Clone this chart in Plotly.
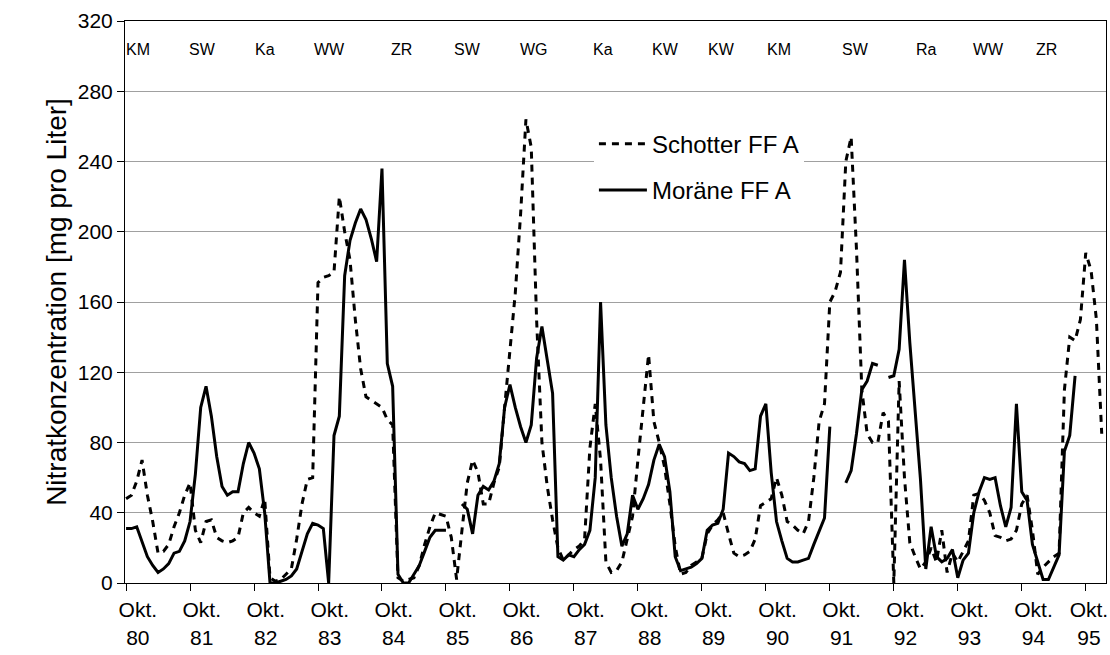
import plotly.graph_objects as go

# ---- data (monthly values, month 0 = Okt. 80) ----
months = list(range(184))

schotter = [
    48, 50, 58, 70, 50, 35, 17, 18, 22, 32,
    40, 50, 57, 30, 23, 35, 36, 26, 24, 23,
    24, 26, 40, 43, 40, 38, 48, 3, 1, 2,
    5, 8, 25, 45, 59, 60, 171, 174, 175, 177,
    220, 200, 184, 150, 122, 106, 104, 102, 100, 93,
    90, 3, 1, 2, 3, 10, 22, 32, 40, 39,
    38, 26, 2, 30, 57, 70, 63, 45, 45, 57,
    66, 100, 135, 165, 210, 264, 248, 150, 80, 55,
    36, 20, 13, 16, 19, 21, 25, 77, 102, 70,
    12, 6, 7, 12, 26, 38, 70, 100, 130, 92,
    80, 66, 45, 21, 5, 6, 10, 12, 14, 28,
    33, 36, 40, 28, 17, 15, 16, 18, 25, 44,
    46, 48, 60, 50, 35, 33, 30, 28, 35, 60,
    92, 102, 160, 166, 177, 240, 254, 190, 110, 85,
    80, 80, 97, 92, 0, 115, 60, 23, 15, 8,
    12, 20, 12, 30, 6, 17, 12, 18, 24, 50,
    51, 47, 40, 27, 26, 24, 25, 30, 45, 50,
    30, 5, 9, 12, 15, 17, 110, 140, 138, 150,
    188, 178, 150, 85,
]

moraene = [
    31, 31, 32, 24, 15, 10, 6, 8, 11, 17,
    18, 24, 35, 62, 100, 112, 95, 72, 55, 50,
    52, 52, 68, 80, 74, 65, 40, 0, 0, 1,
    2, 4, 8, 18, 28, 34, 33, 31, 0, 84,
    95, 175, 195, 205, 213, 207, 196, 183, 236, 125,
    112, 5, 0, 0, 5, 10, 18, 26, 30, 30,
    30, None, None, 45, 42, 28, 50, 55, 53, 58,
    68, 100, 113, 100, 89, 80, 90, 128, 146, 127,
    108, 15, 13, 16, 15, 19, 22, 30, 60, 160,
    90, 60, 38, 21, 28, 50, 42, 48, 56, 70,
    79, 72, 52, 15, 7, 8, 9, 11, 14, 30,
    33, 34, 42, 74, 72, 69, 68, 64, 65, 95,
    102, 63, 35, 24, 14, 12, 12, 13, 14, 22,
    30, 37, 89, None, None, 57, 64, 85, 110, 115,
    125, 124, None, 117, 118, 133, 184, 137, 100, 59,
    8, 32, 15, 12, 14, 19, 3, 13, 17, 40,
    52, 60, 59, 60, 44, 32, 43, 102, 52, 47,
    22, 12, 2, 2, 9, 16, 75, 84, 118, None,
    None, None, None, None,
]

year_labels = ["80", "81", "82", "83", "84", "85", "86", "87",
               "88", "89", "90", "91", "92", "93", "94", "95"]
y_ticks = [0, 40, 80, 120, 160, 200, 240, 280, 320]

crops = ["KM", "SW", "Ka", "WW", "ZR", "SW", "WG", "Ka",
         "KW", "KW", "KM", "SW", "Ra", "WW", "ZR"]

# ---- layout helpers (positions, not data) ----
crop_x = [2.2, 14.3, 26.1, 38.1, 51.6, 64.1, 76.5, 89.5,
          101.1, 111.6, 122.5, 136.9, 150.2, 161.7, 172.7]
crop_y = 304
label_offset = 2.2

year_ticks = [12 * i for i in range(len(year_labels))]
label_pos = [t + label_offset for t in year_ticks]
label_pos[-1] = year_ticks[-1] + 0.6   # keep last label inside the page
label_text = ["Okt.<br>" + y for y in year_labels]

FONT = "Liberation Sans, Arial, sans-serif"

fig = go.Figure()
fig.add_trace(go.Scatter(
    x=months, y=schotter, mode="lines", name="Schotter FF A",
    line=dict(color="black", width=3, dash="7px,6px"),
    connectgaps=False, legendgroup="a"))
fig.add_trace(go.Scatter(
    x=months, y=moraene, mode="lines", name="Moräne FF A",
    line=dict(color="black", width=3),
    connectgaps=False, legendgroup="b"))

for name, cx in zip(crops, crop_x):
    fig.add_annotation(x=cx, y=crop_y, text=name, showarrow=False,
                       xref="x", yref="y",
                       font=dict(family=FONT, size=16, color="black"))

fig.update_layout(
    width=1110, height=655,
    margin=dict(l=125, r=4, t=21, b=72, autoexpand=False),
    paper_bgcolor="white", plot_bgcolor="white",
    showlegend=True,
    legend=dict(x=0.478, y=0.821, xanchor="left", yanchor="top",
                bgcolor="white", borderwidth=0, itemwidth=48,
                font=dict(family=FONT, size=24, color="black"),
                tracegroupgap=12, traceorder="grouped"),
    xaxis=dict(range=[-0.2, 183.8], showgrid=False, zeroline=False,
               automargin=False, ticklabeloverflow="allow",
               showline=True, linecolor="black", linewidth=1, mirror=True,
               tickmode="array", tickvals=label_pos, ticktext=label_text,
               ticks="", ticklabelstandoff=8,
               tickfont=dict(family=FONT, size=21, color="black"),
               minor=dict(tickmode="array", tickvals=year_ticks,
                          ticks="outside", ticklen=7, tickcolor="black",
                          showgrid=False)),
    yaxis=dict(range=[0, 320], tickmode="array", tickvals=y_ticks,
               automargin=False,
               showgrid=True, gridcolor="#a0a0a0", gridwidth=1,
               zeroline=False, showline=True, linecolor="black",
               linewidth=1, mirror=True, ticks="outside", ticklen=7,
               tickcolor="black",
               tickfont=dict(family=FONT, size=21, color="black"),
               title=dict(text="Nitratkonzentration [mg pro Liter]",
                          font=dict(family=FONT, size=28, color="black"),
                          standoff=2)),
)

fig.write_html("out.html",
               config={"displayModeBar": False},
               post_script="document.body.style.margin='0px';"
                           "document.body.style.padding='0px';")
